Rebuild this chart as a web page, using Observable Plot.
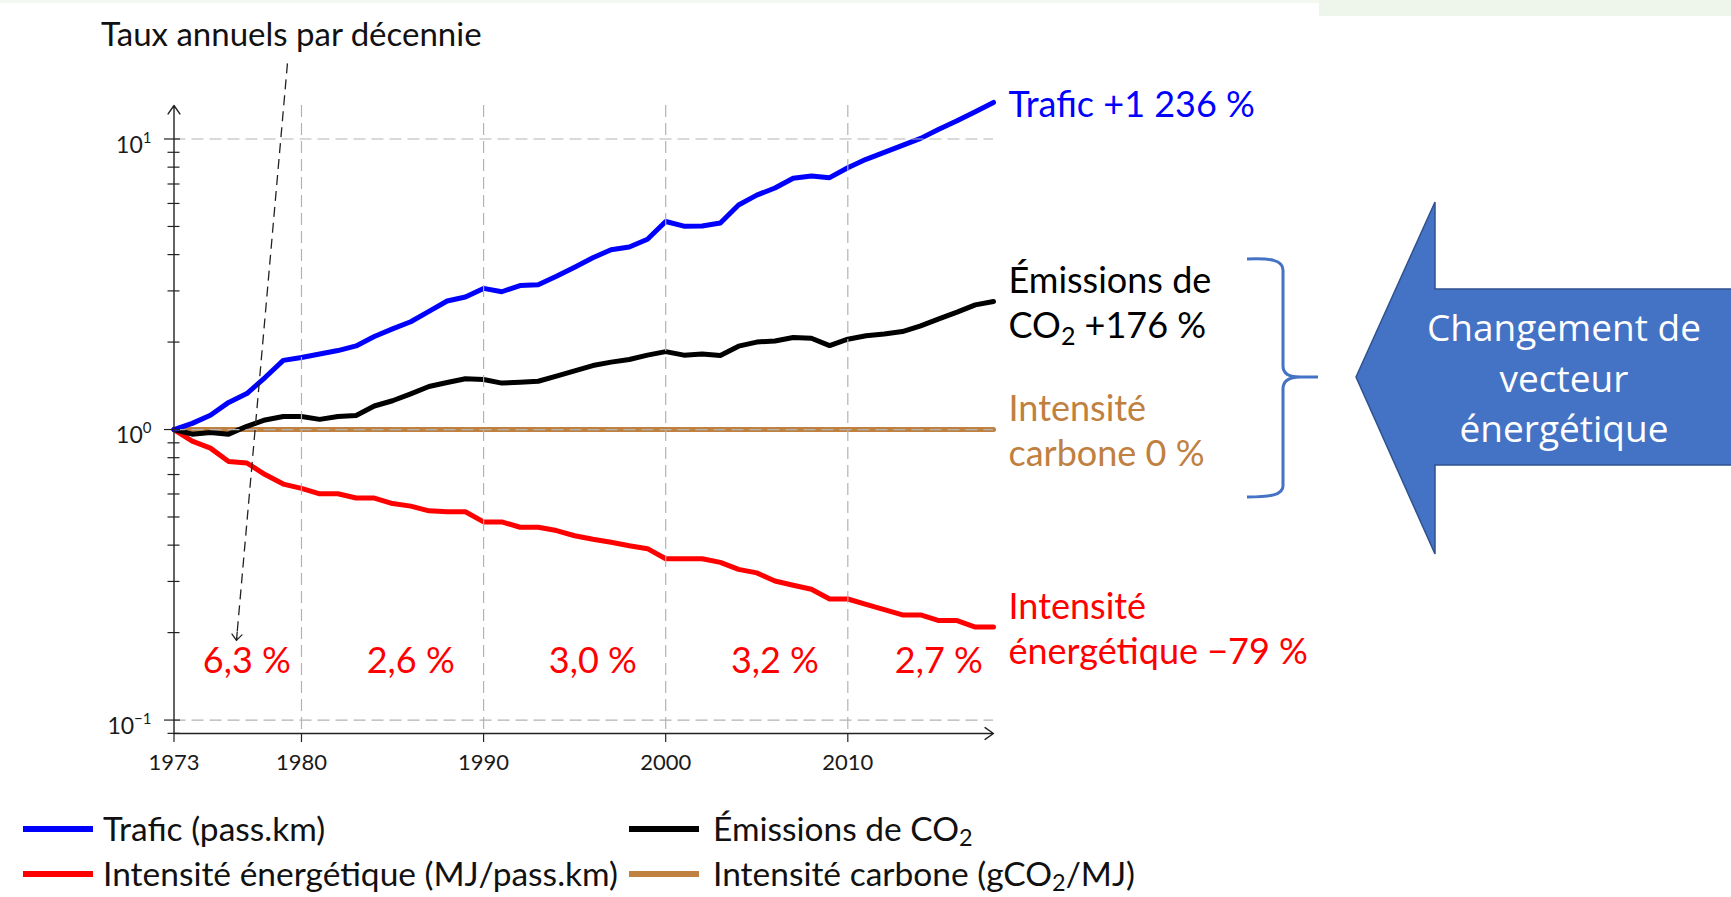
<!DOCTYPE html>
<html><head><meta charset="utf-8">
<script src="https://cdn.jsdelivr.net/npm/d3@7"></script>
<script src="https://cdn.jsdelivr.net/npm/@observablehq/plot@0.6"></script>
<style>
html,body{margin:0;padding:0;background:#fff;}
#wrap{position:relative;width:1731px;height:897px;overflow:hidden;font-family:Lato,"DejaVu Sans",sans-serif;color:#111;}
#wrap svg.plot{position:absolute;left:0;top:0;}
.lgsw{position:absolute;width:70px;height:6px;}
.lgtx{position:absolute;height:34px;line-height:34px;font-size:33.5px;white-space:nowrap;color:#111;}
.lgtx sub{font-size:0.7em;vertical-align:-0.2em;line-height:0;}
#title{position:absolute;left:101px;top:13px;height:40px;line-height:40px;font-size:33px;white-space:nowrap;color:#111;}
#band{position:absolute;left:1319px;top:0;width:412px;height:16px;background:#eef5ea;}
#band2{position:absolute;left:0;top:0;width:1319px;height:3px;background:#f3f8f1;}
#overlay{position:absolute;left:0;top:0;}
</style></head><body><div id="wrap"><div id="band"></div><div id="band2"></div></div>
<script>
// ---------- data ----------
const years = d3.range(1973, 2019);
const keys = ["trafic", "co2", "ie", "ic"];
const colors = ["#0000FF", "#000000", "#FF0000", "#BF8040"];
const trafic = [1.00,1.05,1.12,1.24,1.33,1.51,1.73,1.77,1.82,1.87,1.94,2.09,2.22,2.35,2.55,2.77,2.86,3.06,2.98,3.13,3.15,3.37,3.62,3.90,4.16,4.25,4.52,5.20,5.01,5.02,5.14,5.93,6.41,6.78,7.33,7.46,7.36,7.96,8.51,8.99,9.51,10.05,10.81,11.56,12.42,13.36];
const emissions = [1.000,0.964,0.977,0.964,1.026,1.079,1.109,1.109,1.084,1.109,1.117,1.205,1.256,1.327,1.406,1.452,1.496,1.486,1.445,1.455,1.466,1.528,1.592,1.660,1.706,1.742,1.803,1.854,1.803,1.820,1.799,1.936,2.000,2.018,2.075,2.061,1.945,2.046,2.104,2.133,2.173,2.275,2.404,2.535,2.685,2.76];
const intensiteEnergetique = [1.000,0.912,0.863,0.776,0.767,0.700,0.649,0.627,0.601,0.601,0.581,0.581,0.556,0.545,0.525,0.521,0.521,0.481,0.481,0.461,0.461,0.449,0.431,0.419,0.409,0.398,0.389,0.359,0.359,0.359,0.349,0.330,0.321,0.301,0.291,0.282,0.261,0.261,0.250,0.240,0.230,0.230,0.220,0.220,0.209,0.209];
const intensiteCarbone = [1,1,1,1,1,1,1,1,1,1,1,1,1,1,1,1,1,1,1,1,1,1,1,1,1,1,1,1,1,1,1,1,1,1,1,1,1,1,1,1,1,1,1,1,1,1];
const legendLabels = ["Trafic (pass.km)", "Émissions de CO<sub>2</sub>", "Intensité énergétique (MJ/pass.km)", "Intensité carbone (gCO<sub>2</sub>/MJ)"];
const endLabels = ["Trafic +1 236 %", "Émissions de\nCO₂ +176 %", "Intensité\nénergétique −79 %", "Intensité\ncarbone 0 %"];
const decadeRates = ["6,3 %", "2,6 %", "3,0 %", "3,2 %", "2,7 %"];
const decadeRateYear = [1977, 1986, 1996, 2006, 2015];
const decadeRateLevel = 0.159;
const xTicks = [1973, 1980, 1990, 2000, 2010];
const xGrid = [1980, 1990, 2000, 2010];
const yMajor = [0.1, 1, 10];
const yMinor = [0.09, 0.2, 0.3, 0.4, 0.5, 0.6, 0.7, 0.8, 0.9, 2, 3, 4, 5, 6, 7, 8, 9];
const titleText = "Taux annuels par décennie";
const pointer = [{x1: 1979.23, y1: 18.2, x2: 1976.43, y2: 0.188}];
const calloutLines = ["Changement de", "vecteur", "énergétique"];

// ---------- build ----------
const seriesArrays = {trafic, co2: emissions, ie: intensiteEnergetique, ic: intensiteCarbone};
const drawOrder = ["ic", "ie", "co2", "trafic"];
const rows = [];
drawOrder.forEach(k => years.forEach((yr, i) => rows.push({key: k, year: yr, value: seriesArrays[k][i]})));
const lastYear = years[years.length - 1];
const endRows = keys.map((k, i) => ({key: k, label: endLabels[i], year: lastYear, value: seriesArrays[k][years.length - 1]}));
const rateRows = decadeRates.map((t, i) => ({t, year: decadeRateYear[i], value: decadeRateLevel}));

const W = 1731, H = 790;
const xDomain = [years[0], lastYear];
const yDomain = [0.0899, 13.04];
const axisRows = [
  {x1: xDomain[0], y1: yDomain[0], x2: xDomain[1], y2: yDomain[0]},
  {x1: xDomain[0], y1: yDomain[0], x2: xDomain[0], y2: yDomain[1]}
];
const gridStyle = {stroke: "#b3b3b3", strokeWidth: 1.2, strokeDasharray: "12,6"};

const svg = Plot.plot({
  width: W, height: H,
  marginLeft: 173.5, marginRight: W - 993, marginTop: 105, marginBottom: H - 733,
  x: {domain: xDomain, axis: null},
  y: {type: "log", domain: yDomain, axis: null},
  color: {domain: keys, range: colors},
  style: {fontFamily: "Lato, 'DejaVu Sans', sans-serif", background: "transparent", overflow: "visible", color: "#1a1a1a"},
  marks: [
    Plot.line(rows, {x: "year", y: "value", z: "key", stroke: "key", strokeWidth: 5, strokeLinejoin: "round"}),
    Plot.ruleY(yMajor, gridStyle),
    Plot.ruleX(xGrid, gridStyle),
    Plot.arrow(axisRows, {x1: "x1", y1: "y1", x2: "x2", y2: "y2", stroke: "#222", strokeWidth: 1.4, headLength: 11, headAngle: 70}),
    Plot.axisY(yMinor, {anchor: "left", tickSize: 12, dx: 6, fill: "none", stroke: "#222", strokeWidth: 1.2, label: null}),
    Plot.axisY(yMajor, {anchor: "left", tickSize: 16, dx: 6.5, fill: "none", stroke: "#222", strokeWidth: 1.2, label: null}),
    Plot.axisY(yMajor, {anchor: "left", tickSize: 0, tickPadding: 22.5, fontSize: 23, fill: "#1a1a1a", tickFormat: d => String(Math.round(Math.log10(d))), label: null}),
    Plot.axisX(xTicks, {anchor: "bottom", tickSize: 9, tickPadding: 12, fontSize: 22, stroke: "#222", strokeWidth: 1.2, fill: "#1a1a1a", tickFormat: d => String(d), label: null}),
    Plot.text(rateRows, {x: "year", y: "value", text: "t", fill: "#FF0000", fontSize: 36}),
    Plot.text(endRows, {x: "year", y: "value", text: "label", fill: "key", fontSize: 36, lineHeight: 1.25, textAnchor: "start", dx: 15}),
    Plot.link(pointer, {x1: "x1", y1: "y1", x2: "x2", y2: "y2", stroke: "#222", strokeWidth: 1.3, strokeDasharray: "10,6"}),
    Plot.arrow(pointer, {x1: "x1", y1: "y1", x2: "x2", y2: "y2", stroke: "#222", strokeWidth: 1.3, insetStart: 571, headLength: 9, headAngle: 80})
  ]
});
svg.classList.add("plot");
const NS = "http://www.w3.org/2000/svg";
// exponents for y tick labels
svg.querySelectorAll('g[aria-label="y-axis tick label"] text').forEach(t => {
  const e = t.textContent.replace("-", "\u2212");
  t.textContent = "10";
  t.setAttribute("y", "0.6em");
  const s = document.createElementNS(NS, "tspan");
  s.setAttribute("dy", "-10");
  s.setAttribute("font-size", "15");
  s.textContent = e;
  t.appendChild(s);
});
// subscripts
svg.querySelectorAll("text, tspan").forEach(node => {
  if (node.childElementCount === 0 && node.textContent.includes("₂")) {
    const [a, b] = node.textContent.split("₂");
    node.textContent = a;
    const sub = document.createElementNS(NS, "tspan");
    sub.setAttribute("baseline-shift", "-7");
    sub.setAttribute("font-size", "25");
    sub.textContent = "2";
    const rest = document.createElementNS(NS, "tspan");
    rest.textContent = b;
    node.appendChild(sub); node.appendChild(rest);
  }
});
const wrap = document.getElementById("wrap");
wrap.appendChild(svg);

// title
const title = document.createElement("div");
title.id = "title"; title.textContent = titleText;
wrap.appendChild(title);

// legend
const legendPos = [
  {sx: 23, tx: 103, cy: 829}, {sx: 629, tx: 713, cy: 829},
  {sx: 23, tx: 103, cy: 874}, {sx: 629, tx: 713, cy: 874}
];
keys.forEach((k, i) => {
  const p = legendPos[i];
  const sw = document.createElement("div");
  sw.className = "lgsw"; sw.style.left = p.sx + "px"; sw.style.top = (p.cy - 3) + "px"; sw.style.background = colors[i];
  const tx = document.createElement("div");
  tx.className = "lgtx"; tx.style.left = p.tx + "px"; tx.style.top = (p.cy - 18) + "px"; tx.innerHTML = legendLabels[i];
  wrap.appendChild(sw); wrap.appendChild(tx);
});

// brace + block arrow callout
const ov = document.createElementNS(NS, "svg");
ov.id = "overlay"; ov.setAttribute("width", 1731); ov.setAttribute("height", 897);
ov.innerHTML = `
<path d="M1247,259 C1270,258 1283,260 1283,270 L1283,366 C1283,374 1290,377 1300,377 L1318,377 M1300,377 C1290,377 1283,380 1283,389 L1283,486 C1283,495 1270,497 1247,497" fill="none" stroke="#4472C4" stroke-width="3"/>
<polygon points="1356,377 1435,202 1435,289 1740,289 1740,465 1435,465 1435,554" fill="#4472C4" stroke="#2F528F" stroke-width="1.5"/>
<g font-family="'Open Sans', Lato, sans-serif" font-size="37" fill="#fff" text-anchor="middle">
${calloutLines.map((l, i) => `<text x="1564" y="${328 + i * 50.3}" dy="0.36em">${l}</text>`).join("")}
</g>`;
wrap.appendChild(ov);
</script>
</body></html>
